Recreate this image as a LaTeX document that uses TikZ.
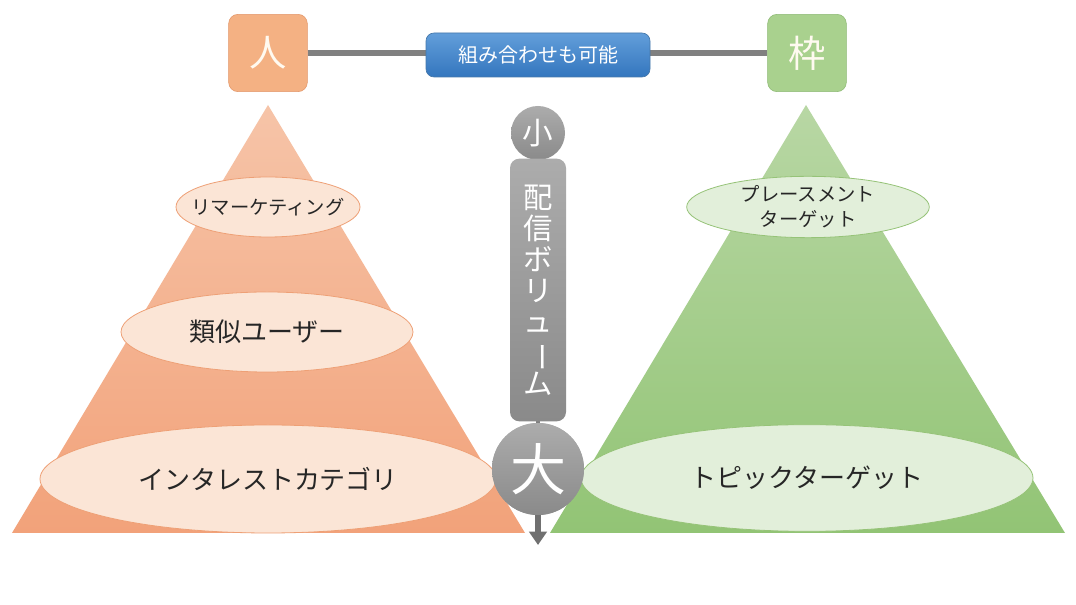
\documentclass[tikz,border=0pt]{standalone}
\usepackage{fontspec}
\newfontfamily\jp{Noto Sans CJK JP}
\usetikzlibrary{shapes.geometric,arrows.meta}

\definecolor{hitoFill}{RGB}{244,177,131}
\definecolor{hitoLine}{RGB}{226,150,105}
\definecolor{wakuFill}{RGB}{169,209,142}
\definecolor{wakuLine}{RGB}{140,185,115}
\definecolor{triLtop}{RGB}{246,196,168}
\definecolor{triLbot}{RGB}{242,162,122}
\definecolor{triRtop}{RGB}{184,215,164}
\definecolor{triRbot}{RGB}{146,196,117}
\definecolor{ellL}{RGB}{251,229,214}
\definecolor{ellLline}{RGB}{238,160,118}
\definecolor{ellR}{RGB}{226,239,218}
\definecolor{ellRline}{RGB}{150,195,120}
\definecolor{blueTop}{RGB}{98,158,218}
\definecolor{blueBot}{RGB}{52,118,190}
\definecolor{blueLine}{RGB}{70,120,170}
\definecolor{linkGray}{RGB}{128,128,128}
\definecolor{volTop}{RGB}{172,172,172}
\definecolor{volBot}{RGB}{138,138,138}
\definecolor{arrowGray}{RGB}{112,112,112}
\definecolor{inkDark}{RGB}{38,38,38}
\definecolor{softWhite}{RGB}{255,250,240}

\tikzset{
  keybox/.style={rounded corners=7pt, minimum width=59pt, minimum height=58pt,
    inner sep=0pt, text=softWhite, font=\jp\fontsize{28}{30}\selectfont},
  tagL/.style={ellipse, draw=ellLline, line width=0.6pt, fill=ellL, inner sep=0pt},
  tagR/.style={ellipse, draw=ellRline, line width=0.6pt, fill=ellR, inner sep=0pt},
  tagtext/.style={inner sep=0pt, text=inkDark, align=center},
  volcircle/.style={circle, inner sep=0pt, top color=volTop, bottom color=volBot,
    draw=none, text=white},
}

\begin{document}
\begin{tikzpicture}[x=0.75pt, y=-0.75pt]
\useasboundingbox (0,0) rectangle (1076,605);
\fill[white] (0,0) rectangle (1076,605);

% the two pyramids
\shade[top color=triLtop, bottom color=triLbot] (268,105) -- (525,533) -- (12,533) -- cycle;
\shade[top color=triRtop, bottom color=triRbot] (806,105) -- (1065,533) -- (550,533) -- cycle;

% header: the two axes and the link between them
\node[keybox, fill=hitoFill, draw=hitoLine] (hito) at (268,53) {人};
\node[keybox, fill=wakuFill, draw=wakuLine] (waku) at (807,53) {枠};
\draw[linkGray, line width=4.5pt] (hito.east) -- (waku.west);
\node[rounded corners=6pt, minimum width=168pt, minimum height=33pt, inner sep=0pt,
      top color=blueTop, bottom color=blueBot, draw=blueLine, line width=0.5pt,
      text=white, font=\jp\fontsize{15}{17}\selectfont] (combo) at (538,55) {組み合わせも可能};

% targeting layers, person side
\node[tagL, minimum width=138pt, minimum height=45pt] (remark) at (268,207) {};
\node[tagtext, font=\jp\fontsize{14.5}{16}\selectfont] (remarkT) at (remark) {リマーケティング};
\node[tagL, minimum width=219pt, minimum height=60pt] (similar) at (267,332) {};
\node[tagtext, font=\jp\fontsize{19.5}{22}\selectfont] (similarT) at (similar) {類似ユーザー};
\node[tagL, minimum width=342pt, minimum height=81pt] (interest) at (268,479) {};
\node[tagtext, font=\jp\fontsize{19.5}{22}\selectfont] (interestT) at (interest) {インタレストカテゴリ};

% targeting layers, placement side
\node[tagR, minimum width=182pt, minimum height=46pt] (placement) at (808,207) {};
\node[tagtext, font=\jp\fontsize{14.5}{18.5}\selectfont] (placementT) at (placement) {プレースメント\\ターゲット};
\node[tagR, minimum width=339pt, minimum height=80pt] (topic) at (807,478) {};
\node[tagtext, font=\jp\fontsize{19.5}{22}\selectfont] (topicT) at (topic) {トピックターゲット};

% delivery volume scale
\node[volcircle, minimum size=40.5pt, font=\jp\fontsize{23}{25}\selectfont] (small) at (538,133) {小};
\node[volcircle, minimum size=69pt] (large) at (538,469) {};
\coordinate (tip) at (538,545);
\draw[linkGray, line width=2.5pt] (small.south) -- (large.north);
\node[rounded corners=7pt, minimum width=42pt, minimum height=197pt, inner sep=0pt,
      top color=volTop, bottom color=volBot, text=white, align=center,
      font=\jp\fontsize{22}{23.3}\selectfont] (volume) at (538,290)
  {配\\信\\ボ\\リ\\ュ\\\rotatebox[origin=c]{-90}{ー}\\ム};
\node[volcircle, minimum size=69pt, font=\jp\fontsize{42}{44}\selectfont] (largeT) at (large) {大};
\draw[arrowGray, line width=4.5pt, -{Triangle[width=13pt,length=10pt]}] (large.south) -- (tip);
\end{tikzpicture}
\end{document}
